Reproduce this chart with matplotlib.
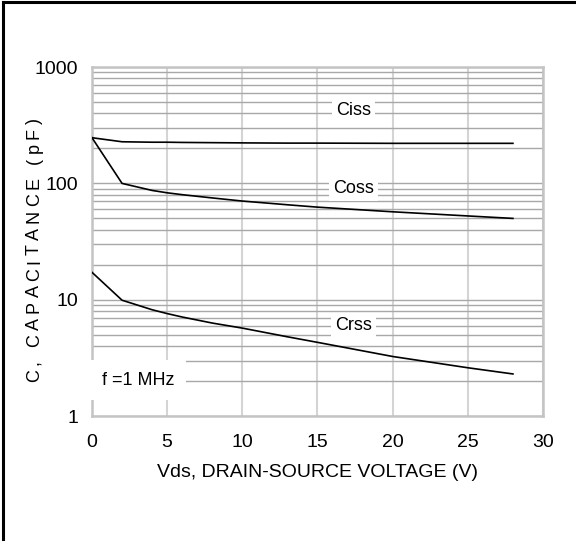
import matplotlib
matplotlib.use("Agg")
import matplotlib.pyplot as plt
from matplotlib import font_manager
from matplotlib.lines import Line2D
from matplotlib.ticker import LogLocator, FixedLocator, NullFormatter

# data
vds = [0, 2, 4, 5, 6, 8, 10, 13, 15, 20, 25, 28]
ciss = [247, 228, 226, 226, 225, 224, 223, 222, 222, 221, 221, 221]
coss = [247, 100, 87, 83, 80, 75, 70.5, 65.5, 62.5, 57, 52.5, 50]
crss = [17.2, 9.9, 8.2, 7.6, 7.1, 6.3, 5.7, 4.8, 4.3, 3.25, 2.6, 2.3]

x_ticks = [0, 5, 10, 15, 20, 25, 30]
y_ticks = [1, 10, 100, 1000]
y_ticklabels = ["1", "10", "100", "1000"]

names = {f.name for f in font_manager.fontManager.ttflist}
family = "Liberation Sans Narrow" if "Liberation Sans Narrow" in names else "Liberation Sans"
plt.rcParams["font.family"] = [family, "DejaVu Sans"]

fig = plt.figure(figsize=(5.76, 5.41), dpi=100)
ax = fig.add_axes([0.1597, 0.231, 0.7830, 0.645])

ax.plot(vds, ciss, color="black", lw=1.2, zorder=3)
ax.plot(vds, coss, color="black", lw=1.2, zorder=3)
ax.plot(vds, crss, color="black", lw=1.2, zorder=3)

ax.set_yscale("log")
ax.set_xlim(0, 30)
ax.set_ylim(1, 1000)
ax.xaxis.set_major_locator(FixedLocator(x_ticks))
ax.set_xticklabels([str(t) for t in x_ticks])
ax.yaxis.set_major_locator(FixedLocator(y_ticks))
ax.set_yticklabels(y_ticklabels)
ax.yaxis.set_minor_locator(LogLocator(base=10, subs=range(2, 10)))
ax.yaxis.set_minor_formatter(NullFormatter())
ax.tick_params(axis="both", which="both", length=0, labelsize=14, pad=10)
ax.tick_params(axis="x", pad=13)

ax.grid(axis="x", which="major", color="#d4d4d4", lw=1.5, zorder=1)
ax.grid(axis="y", which="both", color="#a8a8a8", lw=1.0, zorder=1)
for s in ax.spines.values():
    s.set_color("#c4c4c4")
    s.set_linewidth(1.8)

box = dict(facecolor="white", edgecolor="none", pad=3)
ax.text(17.4, 420, "Ciss", fontsize=13, ha="center", va="center", bbox=box, zorder=4)
ax.text(17.4, 91, "Coss", fontsize=13, ha="center", va="center", bbox=box, zorder=4)
ax.text(17.4, 6.0, "Crss", fontsize=13, ha="center", va="center", bbox=box, zorder=4)
ax.text(3.1, 2.04, "f =1 MHz", fontsize=13, ha="center", va="center",
        bbox=dict(facecolor="white", edgecolor="none", pad=8), zorder=4)

ax.set_xlabel("Vds, DRAIN-SOURCE VOLTAGE (V)", fontsize=14, labelpad=9)

# y label with wide letter spacing, drawn char by char on a shared baseline
ylabel = "C, CAPACITANCE (pF)"
renderer = fig.canvas.get_renderer()
fs = 13
widths = []
for ch in ylabel:
    t = fig.text(0, 0, ch if ch != " " else "n", fontsize=fs)
    widths.append(t.get_window_extent(renderer).width if ch != " " else 5)
    t.remove()
track = 4.2
total = sum(widths) + track * (len(ylabel) - 1)
y_center = 541 - 250
pos = y_center - total / 2
for ch, w in zip(ylabel, widths):
    if ch != " ":
        fig.text(39 / 576, (pos + w / 2) / 541, ch, fontsize=fs, rotation=90,
                 rotation_mode="anchor", ha="center", va="baseline")
    pos += w + track

# page border on the left and top
fig.add_artist(Line2D([3 / 576, 3 / 576], [0, 1 - 2 / 541], color="black", lw=2.2))
fig.add_artist(Line2D([3 / 576, 1], [1 - 2 / 541, 1 - 2 / 541], color="black", lw=2.2))

fig.savefig("out.png", dpi=100)
